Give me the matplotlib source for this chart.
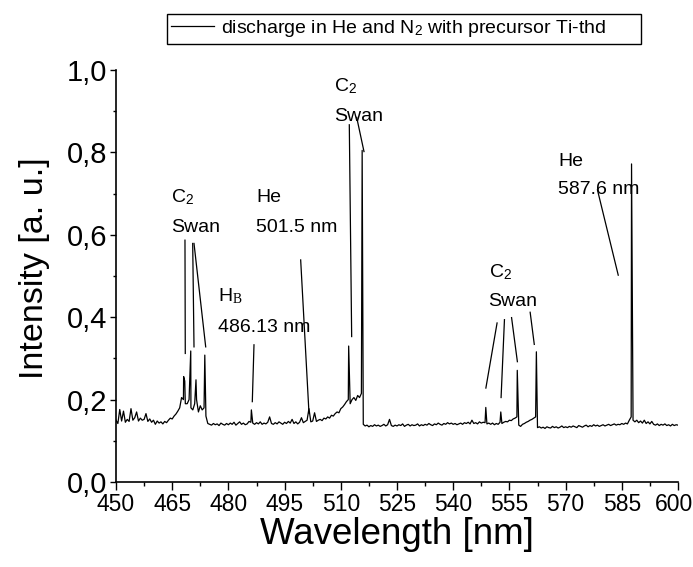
import numpy as np
import matplotlib
matplotlib.use("Agg")
import matplotlib.pyplot as plt
from matplotlib import font_manager
from matplotlib.ticker import FixedLocator, FixedFormatter
from matplotlib.transforms import ScaledTranslation

# ---------------------------------------------------------------- data
# spectrum sampled every 0.5 nm from 450 to 600 nm (normalised intensity)
grid_start, grid_step = 450.0, 0.5
base_450 = [.150, .142, .176, .148, .172, .145, .152, .147, .178, .150,
            .156, .170, .148, .155, .150, .152, .166, .147, .153, .145]
base_460 = [.150, .140, .148, .143, .146, .141, .147, .144, .150, .155,
            .153, .160, .165, .172, .180, .205, .200, .190, .190, .200]
base_470 = [.180, .175, .190, .200, .170, .185, .175, .180, .160, .142,
            .140, .138, .142, .139, .141, .137, .143, .140, .138, .142]
base_480 = [.139, .143, .140, .145, .138, .142, .146, .140, .143, .139,
            .141, .147, .145, .143, .140, .144, .141, .146, .140, .143]
base_490 = [.141, .145, .158, .142, .140, .144, .141, .146, .143, .140,
            .145, .142, .147, .143, .152, .142, .146, .141, .145, .156]
base_500 = [.144, .147, .150, .150, .146, .148, .168, .147, .150, .152,
            .149, .155, .153, .158, .155, .162, .160, .166, .170, .168]
base_510 = [.178, .182, .188, .195, .200, .190, .200, .205, .198, .210,
            .205, .215, .140, .136, .138, .134, .137, .135, .139, .136]
base_520 = [.138, .135, .137, .140, .136, .139, .152, .137, .135, .138,
            .136, .139, .137, .141, .135, .138, .140, .136, .139, .137]
base_530 = [.138, .141, .136, .139, .137, .140, .138, .142, .139, .137,
            .141, .139, .143, .140, .138, .142, .140, .144, .141, .143]
base_540 = [.140, .142, .139, .141, .143, .140, .144, .142, .145, .141,
            .150, .142, .144, .141, .146, .143, .145, .144, .141, .143]
base_550 = [.140, .143, .139, .142, .140, .145, .142, .145, .147, .146,
            .150, .149, .153, .155, .158, .138, .135, .140, .142, .145]
base_560 = [.147, .150, .152, .155, .158, .132, .134, .131, .133, .130,
            .134, .132, .131, .135, .132, .134, .131, .133, .136, .132]
base_570 = [.134, .132, .135, .133, .136, .134, .132, .137, .135, .133,
            .136, .138, .134, .137, .135, .139, .136, .138, .135, .137]
base_580 = [.139, .136, .138, .140, .137, .139, .141, .138, .140, .139,
            .142, .140, .143, .141, .150, .158, .150, .146, .150, .144]
base_590 = [.148, .143, .150, .142, .146, .141, .147, .140, .138, .141,
            .137, .140, .138, .141, .137, .139, .136, .140, .137, .139, .138]

# emission lines / band heads
peak_wl = [468.05, 468.35, 469.95, 471.35, 473.70, 486.13, 501.50,
           512.10, 515.70, 548.70, 552.70, 557.10, 562.20, 587.60]
peak_int = [0.256, 0.245, 0.318, 0.248, 0.308, 0.175, 0.178,
            0.330, 0.805, 0.181, 0.170, 0.271, 0.316, 0.772]

# leader lines: (x0, y0, x1, y1) from label to line
leaders = [
    (468.41, 0.587, 468.49, 0.312),
    (470.47, 0.579, 470.82, 0.328),
    (470.82, 0.579, 473.94, 0.328),
    (486.83, 0.333, 486.38, 0.195),
    (499.29, 0.539, 501.51, 0.167),
    (512.27, 0.867, 512.90, 0.353),
    (514.24, 0.885, 516.19, 0.802),
    (551.71, 0.386, 548.72, 0.228),
    (553.68, 0.394, 552.78, 0.205),
    (555.58, 0.399, 557.13, 0.292),
    (560.54, 0.412, 561.64, 0.334),
    (578.50, 0.709, 584.05, 0.502),
]

# line identifications: (text, x, baseline y)
line_labels = [
    ("C$_2$", 464.68, 0.680), ("Swan", 464.68, 0.607),
    ("H$_{B}$", 477.22, 0.4376), ("486.13 nm", 477.22, 0.3648),
    ("He", 487.36, 0.680), ("501.5 nm", 487.36, 0.6075),
    ("C$_2$", 508.31, 0.948), ("Swan", 508.31, 0.877),
    ("C$_2$", 549.44, 0.4976), ("Swan", 549.44, 0.427),
    ("He", 567.96, 0.767), ("587.6 nm", 567.96, 0.699),
]

x_ticks = [450, 465, 480, 495, 510, 525, 540, 555, 570, 585, 600]
x_tick_labels = ["450", "465", "480", "495", "510", "525", "540", "555",
                 "570", "585", "600"]
y_ticks = [0.0, 0.2, 0.4, 0.6, 0.8, 1.0]
y_tick_labels = ["0,0", "0,2", "0,4", "0,6", "0,8", "1,0"]

legend_label = "discharge in He and N$_2$ with precursor Ti-thd"

# ---------------------------------------------------------------- assemble
base = np.concatenate([base_450, base_460, base_470, base_480, base_490,
                       base_500, base_510, base_520, base_530, base_540,
                       base_550, base_560, base_570, base_580, base_590])
grid = np.arange(len(base)) * grid_step + grid_start
keep = ~np.isin(np.round(grid, 2), np.round(peak_wl, 2))
wl = np.concatenate([grid[keep], peak_wl])
inten = np.concatenate([base[keep], peak_int])
order = np.argsort(wl, kind="stable")
wl, inten = wl[order], inten[order]

# ---------------------------------------------------------------- style
names = {f.name for f in font_manager.fontManager.ttflist}
sans = "Liberation Sans" if "Liberation Sans" in names else "DejaVu Sans"

plt.rcParams["font.family"] = [sans, "DejaVu Sans"]
plt.rcParams["mathtext.fontset"] = "custom"
plt.rcParams["mathtext.rm"] = sans
plt.rcParams["mathtext.it"] = "Liberation Serif"
plt.rcParams["mathtext.default"] = "it"

W, H = 693, 567
fig = plt.figure(figsize=(W / 100, H / 100), dpi=100)
ax = fig.add_axes([116 / W, 85 / H, 562 / W, 412 / H])

ax.plot(wl, inten, color="black", lw=0.9, label=legend_label)

for x0, y0, x1, y1 in leaders:
    ax.plot([x0, x1], [y0, y1], color="black", lw=0.9)

for txt, x, y in line_labels:
    ax.text(x, y, txt, fontsize=14, ha="left", va="baseline")

ax.set_xlim(450, 600)
ax.set_ylim(0, 1.0)

ax.xaxis.set_major_locator(FixedLocator(x_ticks))
ax.xaxis.set_major_formatter(FixedFormatter(x_tick_labels))
ax.xaxis.set_minor_locator(FixedLocator(np.array(x_ticks[:-1]) + 7.5))
ax.yaxis.set_major_locator(FixedLocator(y_ticks))
ax.yaxis.set_major_formatter(FixedFormatter(y_tick_labels))
ax.yaxis.set_minor_locator(FixedLocator(np.array(y_ticks[:-1]) + 0.1))

for s in ("top", "right"):
    ax.spines[s].set_visible(False)
for s in ("left", "bottom"):
    ax.spines[s].set_linewidth(1.2)

ax.tick_params(axis="x", which="major", direction="out", length=6, width=1.0, pad=2)
ax.tick_params(axis="x", which="minor", direction="out", length=3, width=1.0)
ax.tick_params(axis="y", which="major", direction="out", length=4.5, width=1.0, pad=2)
ax.tick_params(axis="y", which="minor", direction="out", length=2.5, width=1.0)

xlabels = ax.get_xticklabels()
for lab in xlabels:
    lab.set_fontsize(16.5)
# keep the last tick label inside the canvas
xlabels[-1].set_transform(xlabels[-1].get_transform()
                          + ScaledTranslation(-4 / 100, 0, fig.dpi_scale_trans))
for lab in ax.get_yticklabels():
    lab.set_fontsize(21)

fig.text(397 / W, 1 - 535 / H, "Wavelength [nm]", fontsize=26.5,
         ha="center", va="center")
fig.text(35 / W, 1 - 268 / H, "Intensity [a. u.]", fontsize=24.5,
         ha="center", va="center", rotation=90)

leg = ax.legend(loc="lower left",
                bbox_to_anchor=(167 / W, 1 - 43.5 / H, (641 - 167) / W, 30 / H),
                bbox_transform=fig.transFigure, mode="expand",
                borderaxespad=0, frameon=True, fancybox=False,
                fontsize=14, handlelength=2.2, handletextpad=0.35,
                borderpad=0.22)
leg.get_frame().set_edgecolor("black")
leg.get_frame().set_linewidth(1.0)
leg.get_frame().set_alpha(1)
for h in leg.get_lines():
    h.set_linewidth(0.9)

fig.savefig("out.png", dpi=100)
